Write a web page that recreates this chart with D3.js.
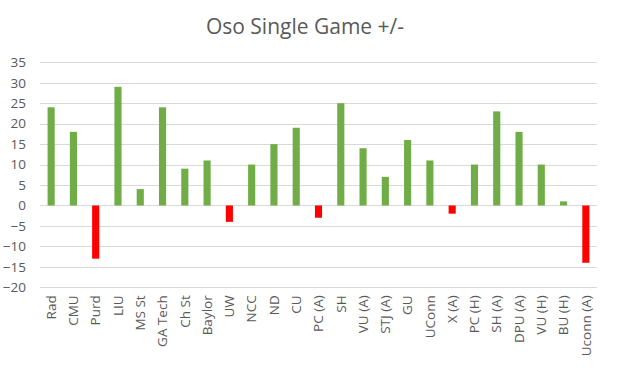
<!DOCTYPE html>
<html><head><meta charset="utf-8">
<script src="https://cdn.jsdelivr.net/npm/d3@7"></script>
<style>body{margin:0;background:#fff}svg{display:block}text{font-family:"Open Sans",sans-serif;fill:#595959}</style>
</head><body><svg id="c" width="617" height="371"></svg>
<script>
const categories = ["Rad","CMU","Purd","LIU","MS St","GA Tech","Ch St","Baylor","UW","NCC","ND","CU","PC (A)","SH","VU (A)","STJ (A)","GU","UConn","X (A)","PC (H)","SH (A)","DPU (A)","VU (H)","BU (H)","Uconn (A)"];
const values = [24,18,-13,29,4,24,9,11,-4,10,15,19,-3,25,14,7,16,11,-2,10,23,18,10,1,-14];
const yTicks = [-20,-15,-10,-5,0,5,10,15,20,25,30,35];
const title = "Oso Single Game +/-";

const svg = d3.select("#c");
const x = d3.scaleBand().domain(categories).range([40, 597]).paddingInner(0.68).paddingOuter(0.34);
const y = d3.scaleLinear().domain([-20, 35]).range([287.3, 62.3]);

svg.append("g").selectAll("line").data(yTicks).join("line")
  .attr("x1", 40).attr("x2", 597)
  .attr("y1", d => Math.round(y(d)) + 0.5).attr("y2", d => Math.round(y(d)) + 0.5)
  .attr("stroke", "#d9d9d9").attr("stroke-width", 1);

const yAxis = svg.append("g").attr("transform", "translate(40,0)")
  .call(d3.axisLeft(y).tickValues(yTicks).tickSize(0).tickPadding(14));
yAxis.select(".domain").remove();
yAxis.selectAll("text").style("font-size", "13.5px").attr("fill", "#595959");

svg.append("g").selectAll("rect").data(values).join("rect")
  .attr("x", (d, i) => x(categories[i]))
  .attr("width", x.bandwidth())
  .attr("y", d => y(Math.max(0, d)))
  .attr("height", d => Math.abs(y(d) - y(0)))
  .attr("fill", d => d >= 0 ? "#70ad47" : "#ff0000");

const xAxis = svg.append("g").attr("transform", `translate(0,${y(-20)})`)
  .call(d3.axisBottom(x).tickSize(0).tickPadding(0));
xAxis.select(".domain").remove();
xAxis.selectAll("text")
  .style("font-size", "13.5px").attr("fill", "#595959")
  .attr("transform", "rotate(-90)")
  .attr("text-anchor", "end")
  .attr("x", -8).attr("y", 0).attr("dy", "0.35em");

svg.append("text").attr("x", 305).attr("y", 34).attr("text-anchor", "middle")
  .style("font-size", "21px").text(title);
</script></body></html>
